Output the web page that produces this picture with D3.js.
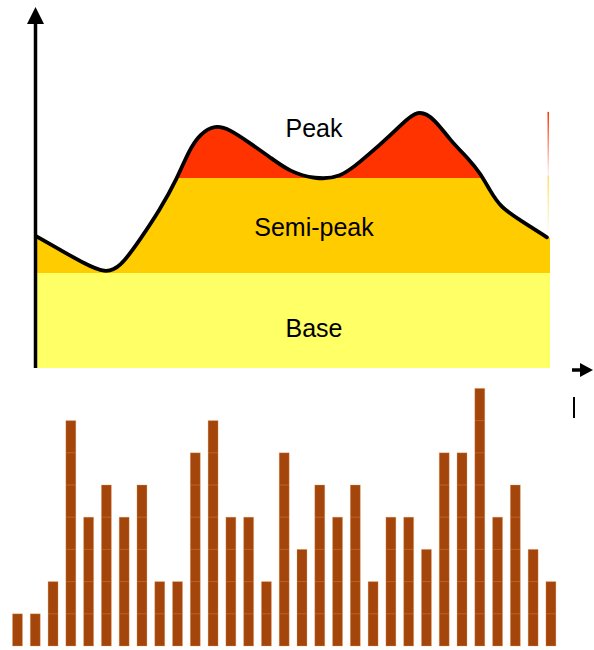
<!DOCTYPE html>
<html><head><meta charset="utf-8">
<script src="https://cdn.jsdelivr.net/npm/d3@7"></script>
<style>html,body{margin:0;padding:0;background:#fff;}svg{display:block;}</style>
</head><body>
<svg id="c" width="594" height="650"></svg>
<script>
// Load curve (x: share of the day 0..100, y: load 0..100)
const curveX = [0, 4.7, 9.5, 13.4, 16.3, 20.2, 24.1, 27.4, 29.8, 31.9, 34.8, 37.7, 41.6, 45.5, 49.4, 54.3, 59.1, 63.0, 66.9, 70.8, 74.3, 77.6, 80.5, 84.4, 86.4, 88.3, 90.3, 94.2, 100];
const curveY = [34.7, 31.1, 27.4, 25.0, 26.3, 33.7, 41.6, 49.7, 57.4, 61.6, 64.0, 62.8, 59.2, 55.5, 51.6, 49.7, 50.0, 54.2, 58.7, 63.6, 68.3, 65.5, 60, 54.7, 51.3, 46.8, 42.4, 38.9, 34.2];
// Load bands
const bandNames = ["Base", "Semi-peak", "Peak"];
const bandLow = [0, 25, 50];
const bandHigh = [25, 50, 100];
const bandColors = ["#FFFF66", "#FFCC00", "#FF3300"];
// Bar chart (units per slot)
const barValues = [1,1,2,7,4,5,4,5,2,2,6,7,4,4,2,6,3,5,4,5,2,4,4,3,6,6,8,4,5,3,2];

const svg = d3.select("#c");
const x = d3.scaleLinear().domain([0, 100]).range([36, 550]);
const y = d3.scaleLinear().domain([0, 100]).range([368, -12]);
const pts = curveX.map((v, i) => [v, curveY[i]]);
const crv = d3.curveBasis;

const defs = svg.append("defs");
defs.append("clipPath").attr("id", "under")
  .append("path")
  .attr("d", d3.area().x(d => x(d[0])).y0(y(0)).y1(d => y(d[1])).curve(crv)(pts));

const g = svg.append("g").attr("clip-path", "url(#under)");
bandNames.forEach((n, i) => {
  g.append("rect").attr("x", x(0)).attr("width", x(100) - x(0))
    .attr("y", y(bandHigh[i])).attr("height", y(bandLow[i]) - y(bandHigh[i]))
    .attr("fill", bandColors[i]);
});

// faint artefact line on the right edge
const gr = defs.append("linearGradient").attr("id", "edge").attr("x1", 0).attr("x2", 0).attr("y1", 0).attr("y2", 1);
gr.append("stop").attr("offset", "0%").attr("stop-color", "#FF3300").attr("stop-opacity", 1);
gr.append("stop").attr("offset", "50%").attr("stop-color", "#FF3300").attr("stop-opacity", 0.05);
gr.append("stop").attr("offset", "52%").attr("stop-color", "#FFCC00").attr("stop-opacity", 0.6);
gr.append("stop").attr("offset", "100%").attr("stop-color", "#FFCC00").attr("stop-opacity", 0);
svg.append("rect").attr("x", x(100) - 2.5).attr("width", 1.5)
  .attr("y", y(67.4)).attr("height", y(34.2) - y(67.4)).attr("fill", "url(#edge)");

svg.append("path")
  .attr("d", d3.line().x(d => x(d[0])).y(d => y(d[1])).curve(crv)(pts.slice(0, -1).concat([[99.4, 34.4]])))
  .attr("fill", "none").attr("stroke", "#000").attr("stroke-width", 3.8).attr("stroke-linejoin", "round").attr("stroke-linecap", "round");

// labels
const labelY = [337, 236, 137];
bandNames.forEach((n, i) => {
  svg.append("text").attr("x", 314).attr("y", labelY[i]).attr("text-anchor", "middle")
    .attr("font-family", "Liberation Sans, Arial, sans-serif").attr("font-size", 25).attr("fill", "#000").text(n);
});

// axes
svg.append("line").attr("x1", 35.5).attr("x2", 35.5).attr("y1", 368).attr("y2", 20)
  .attr("stroke", "#000").attr("stroke-width", 3.5);
svg.append("path").attr("d", "M27,24 L35.5,7 L44,24 Z").attr("fill", "#000");
svg.append("line").attr("x1", 572).attr("x2", 582).attr("y1", 370).attr("y2", 370)
  .attr("stroke", "#000").attr("stroke-width", 3.5);
svg.append("path").attr("d", "M580,363 L593,370 L580,377 Z").attr("fill", "#000");
svg.append("line").attr("x1", 574).attr("x2", 574).attr("y1", 397).attr("y2", 418)
  .attr("stroke", "#000").attr("stroke-width", 2);

// bars
const bx = d3.scaleBand().domain(d3.range(barValues.length)).range([8.6, 559.8]).paddingInner(0.44).paddingOuter(0.22);
const by = d3.scaleLinear().domain([0, 8]).range([646, 388.4]);
const bars = svg.append("g");
barValues.forEach((v, i) => {
  bars.append("rect").attr("x", bx(i)).attr("width", bx.bandwidth())
    .attr("y", by(v)).attr("height", by(0) - by(v)).attr("fill", "#A4460B")
    .attr("stroke", "#E8A060").attr("stroke-opacity", 0.3).attr("stroke-width", 1);
  for (let k = 1; k < v; k++) {
    bars.append("line").attr("x1", bx(i)).attr("x2", bx(i) + bx.bandwidth())
      .attr("y1", by(k)).attr("y2", by(k)).attr("stroke", "#E0904A").attr("stroke-opacity", 0.4).attr("stroke-width", 1);
  }
});
</script>
</body></html>
